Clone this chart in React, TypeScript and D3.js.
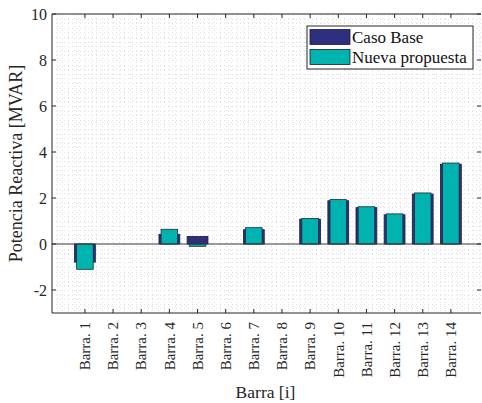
import { useEffect, useRef } from 'react'
import * as d3 from 'd3'

const categories = ['Barra. 1', 'Barra. 2', 'Barra. 3', 'Barra. 4', 'Barra. 5', 'Barra. 6', 'Barra. 7',
  'Barra. 8', 'Barra. 9', 'Barra. 10', 'Barra. 11', 'Barra. 12', 'Barra. 13', 'Barra. 14']
const casoBase = [-0.79, 0, 0, 0.42, 0.33, 0, 0.62, 0, 1.08, 1.88, 1.58, 1.27, 2.17, 3.47]
const nuevaPropuesta = [-1.1, 0, 0, 0.64, -0.1, 0, 0.71, 0, 1.11, 1.93, 1.62, 1.31, 2.22, 3.52]
const yTicks = [-2, 0, 2, 4, 6, 8, 10]
const seriesNames = ['Caso Base', 'Nueva propuesta']
const colors = ['#2f2f80', '#00b3ae']

export default function App() {
  const svgRef = useRef<SVGSVGElement>(null)

  useEffect(() => {
    const svg = d3.select(svgRef.current)
    svg.selectAll('*').remove()

    const W = 482, H = 403
    const m = { top: 14, right: 1, bottom: 90, left: 52 }
    const innerW = W - m.left - m.right
    const innerH = H - m.top - m.bottom
    const font = '"Liberation Serif", "Times New Roman", serif'
    const axisColor = '#262626'

    const x = d3.scaleLinear().domain([-0.17, 15.07]).range([0, innerW])
    const y = d3.scaleLinear().domain([-3, 10]).range([innerH, 0])

    const g = svg.append('g').attr('transform', `translate(${m.left},${m.top})`)

    g.append('rect').attr('width', innerW).attr('height', innerH).attr('fill', '#fff')

    // dotted grid
    const grid = g.append('g').attr('stroke', '#e0e0e0').attr('stroke-width', 1)
      .attr('stroke-dasharray', '1,3')
    d3.range(-3, 10.01, 0.2).forEach(v => {
      grid.append('line').attr('x1', 0).attr('x2', innerW)
        .attr('y1', Math.round(y(v)) + 0.5).attr('y2', Math.round(y(v)) + 0.5)
    })
    d3.range(0, 15.1, 0.2).forEach(v => {
      if (x(v) <= 0 || x(v) >= innerW) return
      grid.append('line').attr('y1', 0).attr('y2', innerH)
        .attr('x1', Math.round(x(v)) + 0.5).attr('x2', Math.round(x(v)) + 0.5)
    })

    // bars
    const idx = d3.range(categories.length)
    const wideW = x(0.74) - x(0)
    const narrowW = x(0.59) - x(0)
    g.selectAll('.base').data(idx).join('rect')
      .attr('x', i => x(i + 1) - wideW / 2)
      .attr('y', i => y(Math.max(0, casoBase[i])))
      .attr('width', wideW)
      .attr('height', i => Math.abs(y(casoBase[i]) - y(0)))
      .attr('fill', colors[0]).attr('stroke', '#1c1c3c').attr('stroke-width', 0.8)
    g.selectAll('.nueva').data(idx).join('rect')
      .attr('x', i => x(i + 1) - narrowW / 2)
      .attr('y', i => y(Math.max(0, nuevaPropuesta[i])))
      .attr('width', narrowW)
      .attr('height', i => Math.abs(y(nuevaPropuesta[i]) - y(0)))
      .attr('fill', colors[1]).attr('stroke', '#1c2c3c').attr('stroke-width', 0.8)

    // baseline
    g.append('line').attr('x1', 0).attr('x2', innerW)
      .attr('y1', y(0)).attr('y2', y(0)).attr('stroke', '#3a3a3a').attr('stroke-width', 1)

    // axes box + ticks
    g.append('path')
      .attr('d', `M0,${innerH}V0H${innerW}M0,${innerH}H${innerW}`)
      .attr('fill', 'none').attr('stroke', axisColor).attr('stroke-width', 1)

    const tl = 4
    yTicks.forEach(v => {
      g.append('line').attr('x1', 0).attr('x2', tl).attr('y1', y(v)).attr('y2', y(v)).attr('stroke', axisColor)
      g.append('line').attr('x1', innerW - tl).attr('x2', innerW).attr('y1', y(v)).attr('y2', y(v)).attr('stroke', axisColor)
      g.append('text').attr('x', -5).attr('y', y(v)).attr('dy', '0.35em')
        .attr('text-anchor', 'end').attr('font-family', font).attr('font-size', 16)
        .attr('fill', axisColor).text(v)
    })
    categories.forEach((c, i) => {
      const xv = x(i + 1)
      g.append('line').attr('x1', xv).attr('x2', xv).attr('y1', innerH).attr('y2', innerH - tl).attr('stroke', axisColor)
      g.append('line').attr('x1', xv).attr('x2', xv).attr('y1', 0).attr('y2', tl).attr('stroke', axisColor)
      g.append('text')
        .attr('transform', `translate(${xv},${innerH + 9}) rotate(-90)`)
        .attr('dy', '0.35em').attr('text-anchor', 'end')
        .attr('font-family', font).attr('font-size', 15).attr('fill', axisColor).text(c)
    })

    // axis labels
    svg.append('text').attr('x', m.left + innerW / 2 - 1).attr('y', 398)
      .attr('text-anchor', 'middle').attr('font-family', font).attr('font-size', 17.5)
      .attr('fill', axisColor).text('Barra [i]')
    svg.append('text').attr('transform', `translate(22,${m.top + innerH / 2}) rotate(-90)`)
      .attr('text-anchor', 'middle').attr('font-family', font).attr('font-size', 18)
      .attr('fill', axisColor).text('Potencia Reactiva [MVAR]')

    // legend
    const lg = svg.append('g').attr('transform', 'translate(307,26)')
    lg.append('rect').attr('width', 166).attr('height', 43).attr('fill', '#fff')
      .attr('stroke', axisColor).attr('stroke-width', 1)
    seriesNames.forEach((s, i) => {
      lg.append('rect').attr('x', 3).attr('y', 3.5 + i * 20).attr('width', 40).attr('height', 15)
        .attr('fill', colors[i]).attr('stroke', '#1c1c3c').attr('stroke-width', 0.8)
      lg.append('text').attr('x', 45).attr('y', 11 + i * 20).attr('dy', '0.35em')
        .attr('font-family', font).attr('font-size', 17).attr('fill', '#111').text(s)
    })
  }, [])

  return <svg ref={svgRef} width={482} height={403} style={{ position: 'absolute', left: 0, top: 0 }} />
}
